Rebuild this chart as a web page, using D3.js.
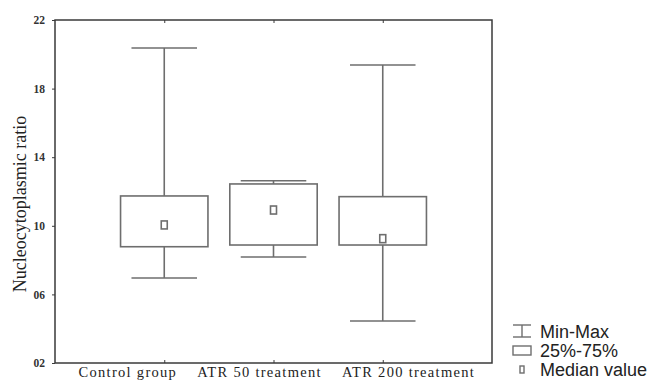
<!DOCTYPE html>
<html>
<head>
<meta charset="utf-8">
<script src="https://cdn.jsdelivr.net/npm/d3@7"></script>
<style>
  body { margin: 0; background: #fff; }
</style>
</head>
<body>
<div id="chart"></div>
<script>
// Data
let groups = ["Control group", "ATR 50 treatment", "ATR 200 treatment"];
let minVals = [6.96, 8.18, 4.45];
let q1Vals = [8.78, 8.88, 8.88];
let medianVals = [10.05, 10.92, 9.25];
let q3Vals = [11.74, 12.44, 11.70];
let maxVals = [20.37, 12.63, 19.38];
let yTicks = [2, 6, 10, 14, 18, 22];
let yTickLabels = ["02", "06", "10", "14", "18", "22"];
let legendItems = ["Min-Max", "25%-75%", "Median value"];

let WIDTH = 654, HEIGHT = 383;
let margin = {left: 55, top: 20, right: 162, bottom: 20};
let plotW = WIDTH - margin.left - margin.right,
    plotH = HEIGHT - margin.top - margin.bottom;

let LINE = "#6e6e6e", FRAME = "#3a3a3a";

let svg = d3.select("#chart").append("svg")
    .attr("width", WIDTH)
    .attr("height", HEIGHT);

let g = svg.append("g")
    .attr("transform", `translate(${margin.left},${margin.top})`);

let x = d3.scalePoint().domain(groups).range([0, plotW]).padding(1);
let y = d3.scaleLinear().domain([2, 22]).range([plotH, 0]);
let step = x.step();
let boxW = step * 0.8, capW = step * 0.6;

let data = groups.map((name, i) => ({
    name: name,
    min: minVals[i], q1: q1Vals[i], med: medianVals[i], q3: q3Vals[i], max: maxVals[i]
}));

// frame
g.append("rect")
    .attr("width", plotW).attr("height", plotH)
    .attr("fill", "none").attr("stroke", FRAME).attr("stroke-width", 1.5);

// y axis
let yAxis = d3.axisLeft(y).tickValues(yTicks)
    .tickFormat((d, i) => yTickLabels[i]).tickSize(3).tickPadding(7);
let ya = g.append("g").call(yAxis);
ya.select(".domain").remove();
ya.selectAll("line").attr("stroke", FRAME);
ya.selectAll("text")
    .attr("font-family", "Liberation Serif, serif")
    .attr("font-weight", "bold")
    .attr("font-size", 11.5).attr("fill", "#333");

// x axis (bottom) and top ticks
let xAxis = d3.axisBottom(x).tickSize(-3).tickPadding(4);
let xa = g.append("g").attr("transform", `translate(0,${plotH})`).call(xAxis);
xa.select(".domain").remove();
xa.selectAll("line").attr("stroke", FRAME);
xa.selectAll("text")
    .attr("font-family", "Liberation Serif, serif")
    .attr("font-size", 14.5)
    .attr("letter-spacing", 1.3)
    .attr("fill", "#222");

// the category labels sit side by side from the left, not centred on their ticks
let LABEL_START = 78 - margin.left, LABEL_GAP = 20;
let cursor = LABEL_START;
xa.selectAll(".tick").each(function (d) {
    let t = d3.select(this).select("text");
    let w = t.node().getComputedTextLength();
    t.attr("text-anchor", "start").attr("x", cursor - x(d));
    cursor += w + LABEL_GAP;
});

let xt = g.append("g").call(d3.axisTop(x).tickSize(-3).tickFormat(""));
xt.select(".domain").remove();
xt.selectAll("line").attr("stroke", FRAME);

// y title
svg.append("text")
    .attr("transform", `translate(26,204) rotate(-90)`)
    .attr("text-anchor", "middle")
    .attr("font-family", "Liberation Serif, serif")
    .attr("font-size", 18).attr("fill", "#222")
    .text("Nucleocytoplasmic ratio");

// boxes
let box = g.selectAll(".box").data(data).enter().append("g")
    .attr("transform", d => `translate(${x(d.name)},0)`);

box.append("line")
    .attr("x1", 0).attr("x2", 0)
    .attr("y1", d => y(d.max)).attr("y2", d => y(d.q3))
    .attr("stroke", LINE).attr("stroke-width", 1.6);
box.append("line")
    .attr("x1", 0).attr("x2", 0)
    .attr("y1", d => y(d.q1)).attr("y2", d => y(d.min))
    .attr("stroke", LINE).attr("stroke-width", 1.6);
box.append("line")
    .attr("x1", -capW / 2).attr("x2", capW / 2)
    .attr("y1", d => y(d.max)).attr("y2", d => y(d.max))
    .attr("stroke", LINE).attr("stroke-width", 1.6);
box.append("line")
    .attr("x1", -capW / 2).attr("x2", capW / 2)
    .attr("y1", d => y(d.min)).attr("y2", d => y(d.min))
    .attr("stroke", LINE).attr("stroke-width", 1.6);
box.append("rect")
    .attr("x", -boxW / 2).attr("width", boxW)
    .attr("y", d => y(d.q3)).attr("height", d => y(d.q1) - y(d.q3))
    .attr("fill", "#fff").attr("stroke", LINE).attr("stroke-width", 1.6);
box.append("rect")
    .attr("x", -3).attr("width", 6)
    .attr("y", d => y(d.med) - 4).attr("height", 8)
    .attr("fill", "#fff").attr("stroke", LINE).attr("stroke-width", 1.6);

// legend
let lg = svg.append("g").attr("transform", "translate(512,331)");
let rowH = 19;
let items = lg.selectAll("g").data(legendItems).enter().append("g")
    .attr("transform", (d, i) => `translate(0,${i * rowH})`);
items.append("text")
    .attr("x", 28).attr("y", 6.5)
    .attr("font-family", "Liberation Sans, Arial, sans-serif")
    .attr("font-size", 18).attr("fill", "#222")
    .text(d => d);
// icons
let ic0 = lg.append("g").attr("stroke", LINE).attr("stroke-width", 1.4).attr("fill", "none");
ic0.append("line").attr("x1", 1).attr("x2", 19).attr("y1", -6).attr("y2", -6);
ic0.append("line").attr("x1", 1).attr("x2", 19).attr("y1", 6).attr("y2", 6);
ic0.append("line").attr("x1", 10).attr("x2", 10).attr("y1", -6).attr("y2", 6);
lg.append("rect").attr("x", 1).attr("y", rowH - 4).attr("width", 18).attr("height", 9)
    .attr("fill", "#fff").attr("stroke", LINE).attr("stroke-width", 1.4);
lg.append("rect").attr("x", 8).attr("y", 2 * rowH - 3).attr("width", 4).attr("height", 7)
    .attr("fill", "#fff").attr("stroke", LINE).attr("stroke-width", 1.4);
</script>
</body>
</html>
